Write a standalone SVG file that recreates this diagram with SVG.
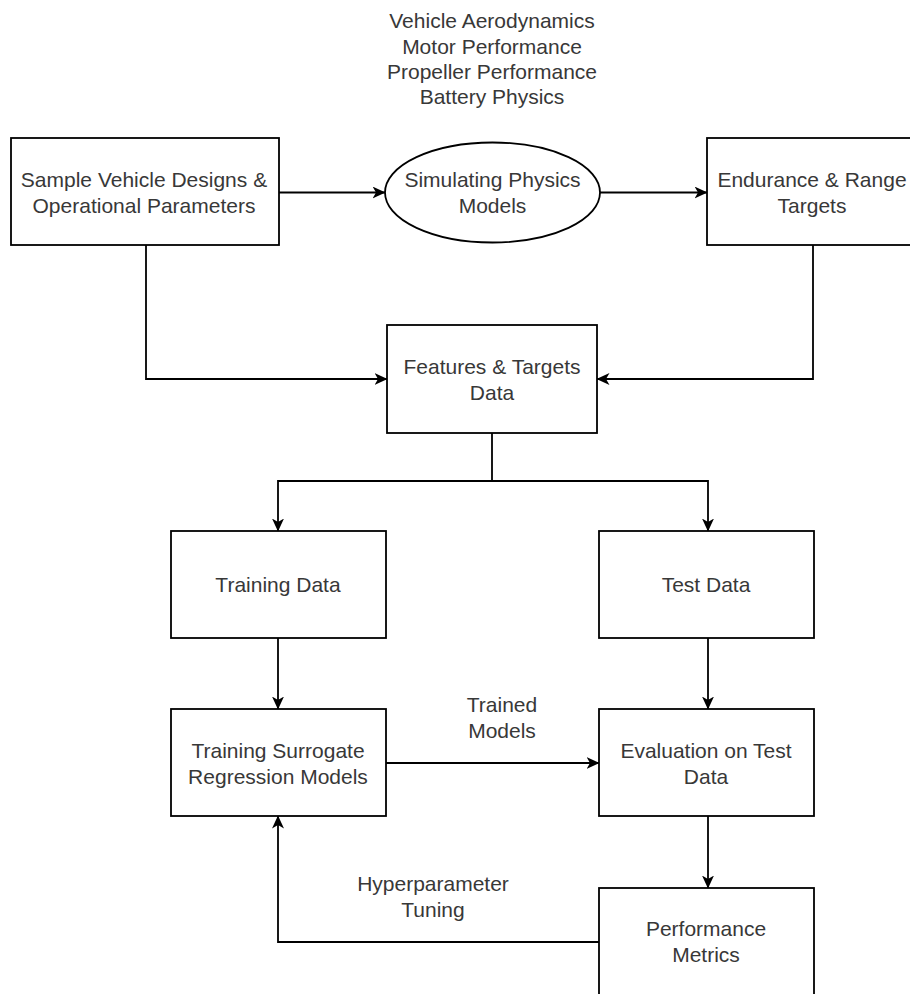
<svg xmlns="http://www.w3.org/2000/svg" width="910" height="994" viewBox="0 0 910 994">
<defs>
<marker id="arr" viewBox="0 0 13 12" refX="12.5" refY="6" markerWidth="13" markerHeight="12" markerUnits="userSpaceOnUse" orient="auto">
<path d="M0,0 L13,6 L0,12 L3.5,6 Z" fill="#000"/>
</marker>
<style>
.box{fill:#fff;stroke:#000;stroke-width:1.8}
.t{font-family:"Liberation Sans",Arial,Helvetica,sans-serif;font-size:21px;fill:#383838;text-anchor:middle}
.c{fill:none;stroke:#000;stroke-width:1.8;marker-end:url(#arr)}
</style>
</defs>
<rect width="910" height="994" fill="#fff"/>
<g id="connectors">
<path class="c" d="M279,192.5 H385"/>
<path class="c" d="M600,192.5 H707"/>
<path class="c" d="M146,245 V379 H387"/>
<path class="c" d="M813,245 V379 H597"/>
<path class="c" d="M492,433 V481 H278 V531"/>
<path class="c" d="M492,481 H708 V531"/>
<path class="c" d="M278,638 V709"/>
<path class="c" d="M708,638 V709"/>
<path class="c" d="M386,763 H599"/>
<path class="c" d="M708,816 V888"/>
<path class="c" d="M599,942 H278 V816"/>
</g>
<g id="physics-list">
<text class="t" x="492" y="28">Vehicle Aerodynamics</text>
<text class="t" x="492" y="53.5">Motor Performance</text>
<text class="t" x="492" y="79">Propeller Performance</text>
<text class="t" x="492" y="104">Battery Physics</text>
</g>
<g id="sample">
<rect class="box" x="11" y="138" width="268" height="107"/>
<text class="t" x="144" y="187">Sample Vehicle Designs &amp;</text>
<text class="t" x="144" y="212.5">Operational Parameters</text>
</g>
<g id="simulate">
<ellipse class="box" cx="492.5" cy="192.5" rx="107.5" ry="50"/>
<text class="t" x="492.5" y="187">Simulating Physics</text>
<text class="t" x="492.5" y="212.5">Models</text>
</g>
<g id="targets">
<rect class="box" x="707" y="138" width="212" height="107"/>
<text class="t" x="812" y="187">Endurance &amp; Range</text>
<text class="t" x="812" y="212.5">Targets</text>
</g>
<g id="features">
<rect class="box" x="387" y="325" width="210" height="108"/>
<text class="t" x="492" y="374">Features &amp; Targets</text>
<text class="t" x="492" y="399.5">Data</text>
</g>
<g id="training-data">
<rect class="box" x="171" y="531" width="215" height="107"/>
<text class="t" x="278" y="592">Training Data</text>
</g>
<g id="test-data">
<rect class="box" x="599" y="531" width="215" height="107"/>
<text class="t" x="706" y="592">Test Data</text>
</g>
<g id="training-models">
<rect class="box" x="171" y="709" width="215" height="107"/>
<text class="t" x="278" y="758">Training Surrogate</text>
<text class="t" x="278" y="783.5">Regression Models</text>
</g>
<g id="evaluation">
<rect class="box" x="599" y="709" width="215" height="107"/>
<text class="t" x="706" y="758">Evaluation on Test</text>
<text class="t" x="706" y="783.5">Data</text>
</g>
<g id="metrics">
<rect class="box" x="599" y="888" width="215" height="108"/>
<text class="t" x="706" y="936">Performance</text>
<text class="t" x="706" y="961.5">Metrics</text>
</g>
<g id="labels">
<text class="t" x="502" y="712">Trained</text>
<text class="t" x="502" y="737.5">Models</text>
<text class="t" x="433" y="891">Hyperparameter</text>
<text class="t" x="433" y="916.5">Tuning</text>
</g>
</svg>
